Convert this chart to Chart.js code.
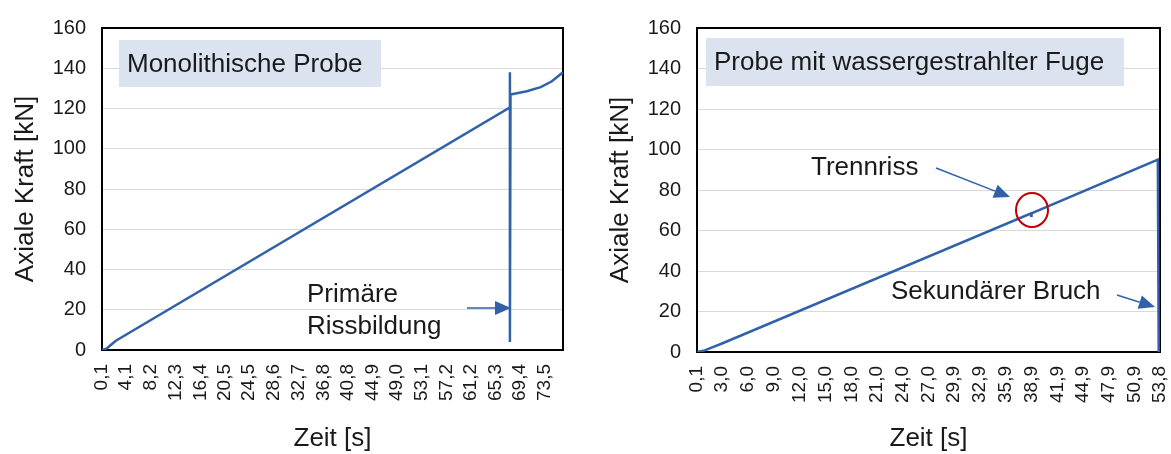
<!DOCTYPE html>
<html>
<head>
<meta charset="utf-8">
<script src="https://cdn.jsdelivr.net/npm/chart.js@4.4.1/dist/chart.umd.min.js"></script>
<style>
    html, body { margin: 0; padding: 0; background: #fff; }
    #wrap { position: relative; width: 1171px; height: 454px; }
    #leftChart { position: absolute; left: 0; top: 0; }
    #rightChart { position: absolute; left: 585px; top: 0; }
</style>
</head>
<body>
<div id="wrap">
    <canvas id="leftChart" width="585" height="454"></canvas>
    <canvas id="rightChart" width="586" height="454"></canvas>
</div>
<script>
// --- Data (Zeit in s, Axiale Kraft in kN) ---
const timeMono = [0.1, 0.9, 1.6, 2.4, 67.7, 67.7, 67.7, 67.8, 70.5, 72.8, 74.6, 76.5];
const forceMono = [0, 0.8, 2.6, 4.6, 120.5, 138, 4, 127, 128.6, 130.6, 133.4, 138];

const timeFuge = [0.1, 1.0, 2.0, 3.0, 38.8, 38.85, 38.9, 53.55, 53.65];
const forceFuge = [0, 0.8, 2.5, 4.2, 68.4, 67.3, 68.5, 95, 0];

const ticksMono = [0.1, 4.1, 8.2, 12.3, 16.4, 20.5, 24.5, 28.6, 32.7, 36.8, 40.8, 44.9, 49.0, 53.1, 57.2, 61.2, 65.3, 69.4, 73.5];
const ticksFuge = [0.1, 3.0, 6.0, 9.0, 12.0, 15.0, 18.0, 21.0, 24.0, 27.0, 29.9, 32.9, 35.9, 38.9, 41.9, 44.9, 47.9, 50.9, 53.8];

const LINE_BLUE = '#3161a9';
const TEXT = '#1a1a1a';
const FONT = "'Liberation Sans', Arial, sans-serif";

Chart.defaults.font.family = FONT;
Chart.defaults.color = TEXT;

function arrow(ctx, x1, y1, x2, y2, headLen, headW) {
    const ang = Math.atan2(y2 - y1, x2 - x1);
    const bx = x2 - headLen * Math.cos(ang);
    const by = y2 - headLen * Math.sin(ang);
    ctx.strokeStyle = LINE_BLUE;
    ctx.fillStyle = LINE_BLUE;
    ctx.lineWidth = 1.5;
    ctx.beginPath();
    ctx.moveTo(x1, y1);
    ctx.lineTo(bx, by);
    ctx.stroke();
    ctx.beginPath();
    ctx.moveTo(x2, y2);
    ctx.lineTo(bx + headW * Math.sin(ang), by - headW * Math.cos(ang));
    ctx.lineTo(bx - headW * Math.sin(ang), by + headW * Math.cos(ang));
    ctx.closePath();
    ctx.fill();
}

// black frame round the plot area + annotations (text box, arrows, circle)
const framePlugin = {
    id: 'frame',
    beforeDatasetsDraw(chart) {
        const { ctx, chartArea: a } = chart;
        ctx.save();
        ctx.strokeStyle = '#000';
        ctx.lineWidth = 2;
        ctx.strokeRect(a.left, a.top, a.right - a.left, a.bottom - a.top);
        ctx.restore();
    },
    afterDatasetsDraw(chart, args, opts) {
        const ctx = chart.ctx;
        ctx.save();
        const b = opts.box;
        ctx.fillStyle = '#dbe3f1';
        ctx.fillRect(b.x, b.y, b.w, b.h);
        ctx.fillStyle = TEXT;
        ctx.font = '26px ' + FONT;
        ctx.textBaseline = 'middle';
        ctx.fillText(b.text, b.x + 8, b.y + b.h / 2 + 1);
        (opts.texts || []).forEach(t => ctx.fillText(t.text, t.x, t.y));
        (opts.arrows || []).forEach(r => arrow(ctx, r[0], r[1], r[2], r[3], 16, 7));
        if (opts.circle) {
            const c = opts.circle;
            ctx.strokeStyle = '#c00000';
            ctx.lineWidth = 2;
            ctx.beginPath();
            ctx.ellipse(c.x, c.y, c.rx, c.ry, 0, 0, Math.PI * 2);
            ctx.stroke();
        }
        ctx.restore();
    }
};

function makeChart(id, times, forces, tickVals, xMax, cfg) {
    const points = times.map((t, i) => ({ x: t, y: forces[i] }));
    return new Chart(document.getElementById(id), {
        type: 'line',
        data: {
            datasets: [{
                data: points,
                borderColor: LINE_BLUE,
                borderWidth: 2.5,
                pointRadius: 0,
                tension: 0,
                fill: false
            }]
        },
        options: {
            responsive: false,
            animation: false,
            layout: { padding: { left: 0, top: cfg.top, right: cfg.right, bottom: 0 } },
            plugins: {
                legend: { display: false },
                tooltip: { enabled: false },
                frame: cfg.annot
            },
            scales: {
                x: {
                    type: 'linear',
                    min: 0.1,
                    max: xMax,
                    afterBuildTicks: s => { s.ticks = tickVals.map(v => ({ value: v })); },
                    afterFit: s => {
                        s.height = cfg.xAxisH;
                        s.paddingLeft = 0;
                        s.paddingRight = 0;
                    },
                    grid: { display: false, drawTicks: false },
                    border: { display: false },
                    ticks: {
                        autoSkip: false,
                        minRotation: 90,
                        maxRotation: 90,
                        padding: 14,
                        font: { size: 19 },
                        callback: v => v.toFixed(1).replace('.', ',')
                    },
                    title: {
                        display: true,
                        text: 'Zeit [s]',
                        font: { size: 26 },
                        padding: { top: 2, bottom: 0 }
                    }
                },
                y: {
                    min: 0,
                    max: 160,
                    afterFit: s => { s.width = cfg.yAxisW; },
                    grid: { color: '#d9d9d9', lineWidth: 1, drawTicks: false },
                    border: { display: false },
                    ticks: { stepSize: 20, padding: 16, font: { size: 20 } },
                    title: {
                        display: true,
                        text: 'Axiale Kraft [kN]',
                        font: { size: 26 },
                        padding: { top: cfg.yTitlePad, bottom: 0 }
                    }
                }
            }
        },
        plugins: [framePlugin]
    });
}

makeChart('leftChart', timeMono, forceMono, ticksMono, 76.5, {
    top: 20, right: 22, yAxisW: 102, xAxisH: 104, yTitlePad: 10,
    annot: {
        box: { x: 119, y: 40, w: 262, h: 47, text: 'Monolithische Probe' },
        texts: [
            { text: 'Primäre', x: 307, y: 295 },
            { text: 'Rissbildung', x: 307, y: 327 }
        ],
        arrows: [[467, 308, 511, 308]]
    }
});

makeChart('rightChart', timeFuge, forceFuge, ticksFuge, 53.8, {
    top: 23, right: 11, yAxisW: 112, xAxisH: 102, yTitlePad: 20,
    annot: {
        box: { x: 121, y: 38, w: 418, h: 48, text: 'Probe mit wassergestrahlter Fuge' },
        texts: [
            { text: 'Trennriss', x: 226, y: 168 },
            { text: 'Sekundärer Bruch', x: 306, y: 292 }
        ],
        arrows: [[351, 168, 425, 197], [532, 295, 570, 307]],
        circle: { x: 447, y: 210, rx: 16, ry: 17 }
    }
});
</script>
</body>
</html>
